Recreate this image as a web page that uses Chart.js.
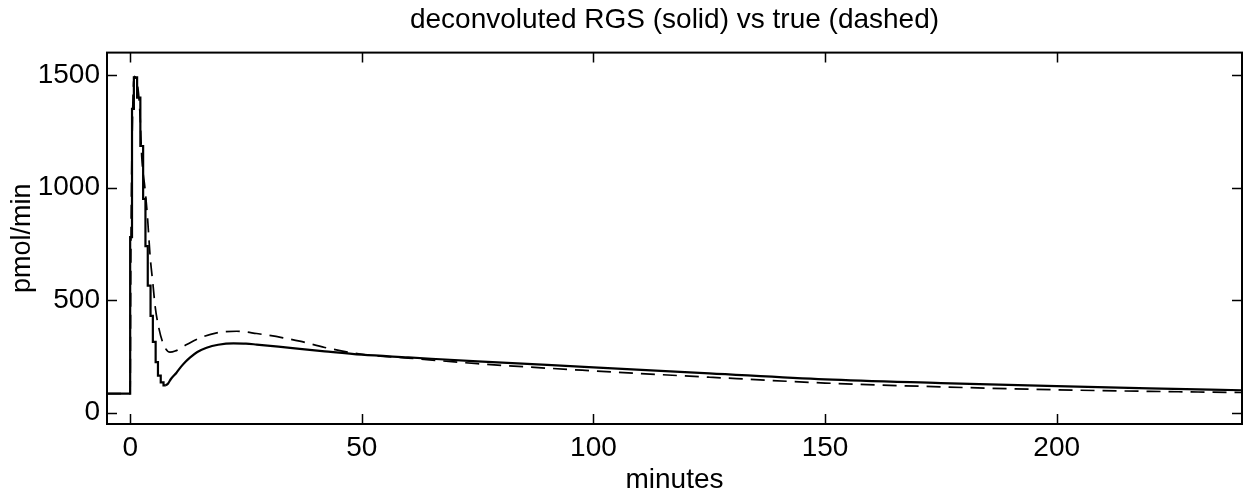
<!DOCTYPE html>
<html>
<head>
<meta charset="utf-8">
<script src="https://cdn.jsdelivr.net/npm/chart.js@4.4.1/dist/chart.umd.min.js"></script>
<style>
  html, body { margin: 0; padding: 0; background: #fff; }
  #wrap { width: 1246px; height: 497px; }
</style>
</head>
<body>
<div id="wrap"><canvas id="c" width="1246" height="497"></canvas></div>
<script>
// ---- data ----
const xTicks = [0, 50, 100, 150, 200];
const yTicks = [0, 500, 1000, 1500];

// deconvoluted RGS (solid) – stepped part (value holds until next time)
const solidStepT = [-5, 0, 0.4, 0.8, 1.5, 2.2, 2.8, 3.3, 3.8, 4.4, 4.9, 5.5, 6.0, 6.6, 7.2, 7.7];
const solidStepV = [85, 780, 1350, 1490, 1400, 1185, 950, 740, 565, 430, 315, 225, 165, 135, 122, 122];

// deconvoluted RGS (solid) – smooth tail
const solidTailT = [7.7, 8.2, 8.8, 10, 11, 12, 12.9, 14.5, 16.5, 19, 22.3, 25, 27.3, 32, 36.6, 42, 50, 60, 75, 100, 125, 150, 175, 200, 220, 240];
const solidTailV = [122, 130, 150, 178, 205, 228, 245, 270, 289, 302, 308, 307, 303, 294, 284, 273, 258, 246, 228, 202, 175, 148, 132, 118, 108, 100];

// true (dashed)
const trueT = [-5, 0, 0.15, 0.5, 0.9, 1.3, 1.8, 2.15, 2.5, 3.23, 3.73, 4.31, 4.89, 5.39, 6.1, 7.2, 8.6, 9.7, 12.2, 15.1, 18.7, 23, 27.3, 33, 36.6, 42, 50, 60, 75, 100, 125, 150, 175, 200, 220, 240];
const trueV = [85, 85, 700, 1300, 1495, 1480, 1420, 1315, 1138, 990, 872, 695, 577, 473, 385, 303, 269, 274, 303, 333, 355, 362, 352, 333, 318, 290, 260, 243, 218, 186, 158, 132, 115, 102, 95, 90];

const toXY = (t, v) => t.map((x, i) => ({ x: x, y: v[i] }));

const FONT = "'Liberation Sans', Arial, Helvetica, sans-serif";

const boxAndTicks = {
  id: 'boxAndTicks',
  afterDraw(chart) {
    const { ctx, chartArea: a, scales } = chart;
    const L = 10;
    ctx.save();
    ctx.strokeStyle = '#000';
    ctx.lineWidth = 1.5;
    ctx.beginPath();
    xTicks.forEach(v => {
      const px = Math.round(scales.x.getPixelForValue(v)) + 0.5;
      ctx.moveTo(px, a.bottom); ctx.lineTo(px, a.bottom - L);
      ctx.moveTo(px, a.top); ctx.lineTo(px, a.top + L);
    });
    yTicks.forEach(v => {
      const py = Math.round(scales.y.getPixelForValue(v)) + 0.5;
      ctx.moveTo(a.left, py); ctx.lineTo(a.left + L, py);
      ctx.moveTo(a.right, py); ctx.lineTo(a.right - L, py);
    });
    ctx.stroke();
    ctx.lineWidth = 2;
    ctx.strokeRect(a.left, a.top, a.right - a.left, a.bottom - a.top);
    ctx.restore();
  }
};

const lineBase = { borderColor: '#000', pointRadius: 0, fill: false, tension: 0 };

new Chart(document.getElementById('c'), {
  type: 'line',
  data: {
    datasets: [
      Object.assign({ label: 'deconvoluted RGS', data: toXY(solidStepT, solidStepV), stepped: true, borderWidth: 2.2 }, lineBase),
      Object.assign({ label: 'deconvoluted RGS tail', data: toXY(solidTailT, solidTailV), borderWidth: 2.2, cubicInterpolationMode: 'monotone' }, lineBase),
      Object.assign({ label: 'true', data: toXY(trueT, trueV), borderWidth: 1.7, borderDash: [14, 8], cubicInterpolationMode: 'monotone' }, lineBase)
    ]
  },
  options: {
    responsive: false,
    animation: false,
    events: [],
    layout: { padding: { left: 0, right: 4, top: 0, bottom: 0 } },
    plugins: {
      legend: { display: false },
      tooltip: { enabled: false },
      title: {
        display: true,
        fullSize: false,
        text: 'deconvoluted RGS (solid) vs true (dashed)',
        color: '#000',
        font: { family: FONT, size: 28, weight: 'normal' },
        padding: { top: 3, bottom: 16 }
      }
    },
    scales: {
      x: {
        type: 'linear',
        min: -5, max: 240,
        afterBuildTicks: s => { s.ticks = xTicks.map(v => ({ value: v })); },
        afterFit: s => { s.height = 73; },
        grid: { display: false, drawTicks: false },
        border: { display: false },
        ticks: { color: '#000', padding: 7, font: { family: FONT, size: 28 }, callback: v => String(v) },
        title: { display: true, text: 'minutes', color: '#000', font: { family: FONT, size: 28 }, padding: { top: 0, bottom: 0 } }
      },
      y: {
        type: 'linear',
        min: -50, max: 1600,
        afterBuildTicks: s => { s.ticks = yTicks.map(v => ({ value: v })); },
        afterFit: s => { s.width = 107; },
        grid: { display: false, drawTicks: false },
        border: { display: false },
        ticks: { color: '#000', padding: 7, font: { family: FONT, size: 28 }, callback: v => String(v) },
        title: { display: true, text: 'pmol/min', color: '#000', font: { family: FONT, size: 27 }, padding: { top: 6, bottom: 0 } }
      }
    }
  },
  plugins: [boxAndTicks]
});
</script>
</body>
</html>
